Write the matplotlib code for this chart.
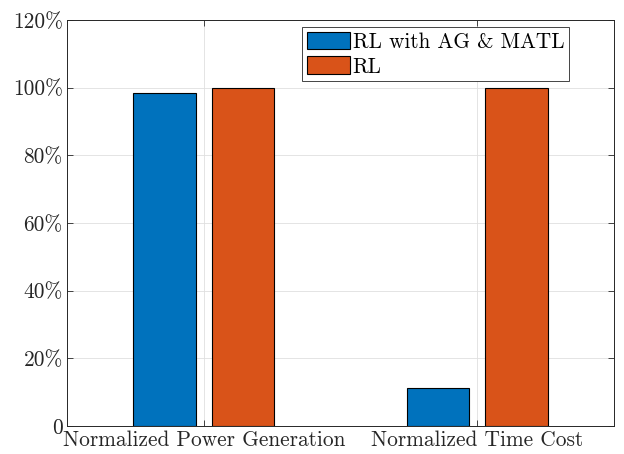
import matplotlib
matplotlib.use("Agg")
import matplotlib.pyplot as plt
import numpy as np

categories = ["Normalized Power Generation", "Normalized Time Cost"]
series_names = ["RL with AG & MATL", "RL"]
agmatl_values = [98.5, 11.3]
rl_values = [100.0, 100.0]
ytick_vals = [0, 20, 40, 60, 80, 100, 120]
ytick_labels = ["0", "20%", "40%", "60%", "80%", "100%", "120%"]

plt.rcParams['font.family'] = ['cmr10', 'DejaVu Serif']
plt.rcParams['axes.unicode_minus'] = False

fig = plt.figure(figsize=(6.24, 4.54), dpi=100)
ax = fig.add_axes([67/624, 1 - 426/454, (614-67)/624, (426-20)/454])

x = np.arange(1, len(categories) + 1)
w = 0.228
off = 0.143
ax.bar(x - off, agmatl_values, w, color="#0072BD", edgecolor="black", linewidth=0.8,
       label=series_names[0], zorder=3)
ax.bar(x + off, rl_values, w, color="#D95319", edgecolor="black", linewidth=0.8,
       label=series_names[1], zorder=3)

ax.set_xlim(0.5, 2.5)
ax.set_ylim(0, 120)
ax.set_xticks(x)
ax.set_xticklabels(categories, fontsize=15.4)
ax.set_yticks(ytick_vals)
ax.set_yticklabels(ytick_labels, fontsize=15.4)
ax.tick_params(direction="in", length=4, width=0.6, color="#262626", labelcolor="#262626", pad=3)
ax.tick_params(top=True, right=True)
ax.grid(True, color="#DFDFDF", linewidth=0.6, zorder=0)
ax.set_axisbelow(True)
for s in ax.spines.values():
    s.set_linewidth(0.7)
    s.set_color("#262626")

leg = ax.legend(loc="upper right", fontsize=15.3,
                fancybox=False, edgecolor="#262626", framealpha=1,
                handlelength=2.0, handleheight=0.9, handletextpad=0.15,
                borderpad=0.22, labelspacing=0.22, borderaxespad=0)
leg.set_bbox_to_anchor((569/624, 1 - 27/454), transform=fig.transFigure)
leg.get_frame().set_linewidth(0.6)

fig.savefig("out.png", dpi=100)
